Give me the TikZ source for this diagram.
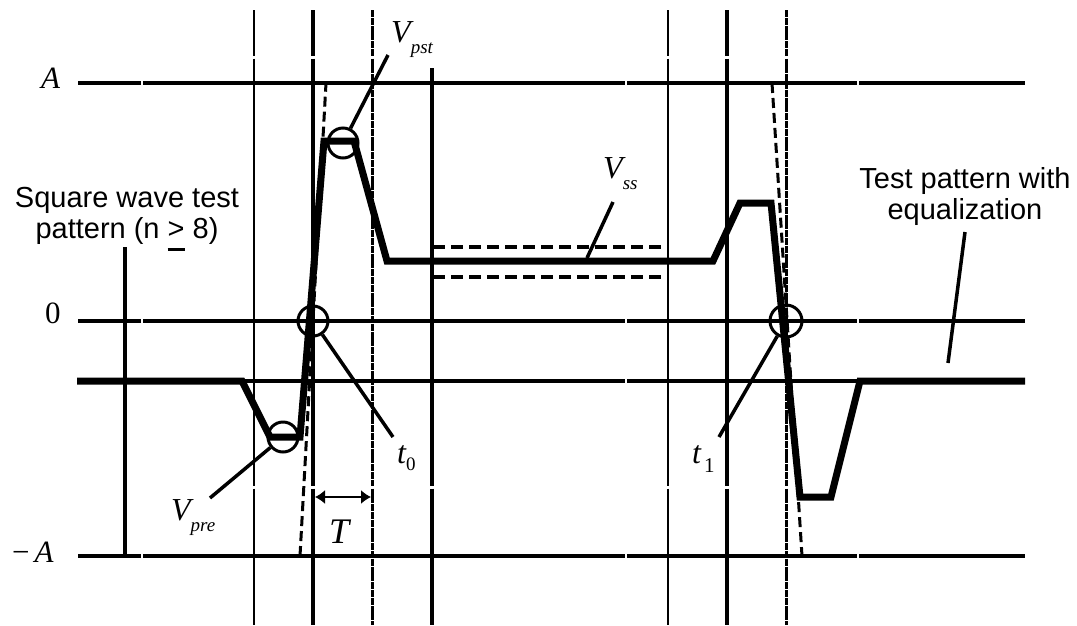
\documentclass[tikz,border=0pt]{standalone}
\usepackage{fontspec}
\setmainfont{Liberation Serif}
\setsansfont{Liberation Sans}
\usetikzlibrary{arrows.meta}
\newcommand\vlab[1]{{\fontsize{32}{32}\selectfont\itshape V}\raisebox{-11pt}{\fontsize{19}{19}\selectfont\itshape #1}}
\begin{document}
\begin{tikzpicture}[x=1pt,y=-1pt,
  hline/.style={line width=3.5pt},
  vthin/.style={line width=2pt},
  vmed/.style={line width=4pt},
  vdot/.style={line width=3pt, dash pattern=on 7pt off 0.8pt},
  wave/.style={line width=7pt, line join=miter},
  ideal/.style={line width=3pt, dash pattern=on 10pt off 5pt},
  band/.style={line width=3.5pt, dash pattern=on 12pt off 6pt},
  ring/.style={circle, draw, line width=3pt, minimum size=30pt, inner sep=0pt},
  leader/.style={line width=3.5pt},
  lab/.style={inner sep=0pt, anchor=base west, font=\fontsize{31}{31}\selectfont},
  sans/.style={inner sep=0pt, anchor=base, font=\sffamily\fontsize{29}{29}\selectfont},
  tarrow/.style={line width=1.5pt, {Latex[length=10pt,width=14pt]}-{Latex[length=10pt,width=14pt]}},
]
\useasboundingbox (0,0) rectangle (1077,625);
\fill[white] (0,0) rectangle (1077,625);

% horizontal levels
\foreach \yy in {83,321,381,556}{
  \draw[hline] (78,\yy) -- (141,\yy) (143,\yy) -- (625,\yy) (627,\yy) -- (857,\yy) (859,\yy) -- (1025,\yy);
}
% vertical time grid
\foreach \xx/\st in {254/vthin,313/vmed,372/vdot,668/vthin,727/vmed,786/vdot}{
  \draw[\st] (\xx,10) -- (\xx,56) (\xx,58.5) -- (\xx,486) (\xx,488.5) -- (\xx,625);
}
\draw[vmed] (432,68) -- (432,486) (432,488.5) -- (432,625);

% square wave leader
\coordinate (sqtop) at (125,247);
\coordinate (sqbot) at (125,556);
\draw[vmed] (sqtop) -- (sqbot);

% ideal square wave edges
\draw[ideal] (300,556) -- (326,83);
\draw[ideal] (772,83) -- (802,556);

% steady-state band
\draw[band] (433,247) -- (668,247);
\draw[band] (433,277) -- (668,277);

% equalized waveform
\draw[wave] (77,381) -- (242,381) -- (270,437) -- (300,437) -- (324,141) -- (354,141)
  -- (387,261) -- (713,261) -- (740,203) -- (771,203) -- (800,497) -- (831,497)
  -- (860,381) -- (1025,381);

% markers
\node[ring] (cpst) at (343,143) {};
\node[ring] (c0) at (313,321) {};
\node[ring] (cpre) at (283,437) {};
\node[ring, minimum size=32pt] (c1) at (786,321) {};

% leaders
\coordinate (pstend) at (388,55);
\draw[leader] (cpst) -- (pstend);
\coordinate (t0end) at (393,437);
\draw[leader] (c0) -- (t0end);
\coordinate (t1end) at (719,437);
\draw[leader] (c1) -- (t1end);
\coordinate (preend) at (210,498);
\draw[leader] (cpre) -- (preend);
\coordinate (ssend) at (613,202);
\coordinate (sson) at (587,258);
\draw[leader] (ssend) -- (sson);
\coordinate (eqtop) at (965,232);
\coordinate (eqbot) at (948,363);
\draw[leader] (eqtop) -- (eqbot);

% T interval
\coordinate (Tl) at (315,497);
\coordinate (Tr) at (371,497);
\draw[tarrow] (Tl) -- (Tr);

% level labels
\node[lab] (lA) at (41,88) {\itshape A};
\node[lab] (l0) at (45,323) {0};
\node[lab] (lmA) at (12,562) {−\hspace{5pt}\itshape A};

% voltage labels
\node[lab] (lpst) at (391,42) {\vlab{pst}};
\node[lab] (lss) at (603,178) {\vlab{ss}};
\node[lab] (lpre) at (171,520) {\vlab{pre}};

% time labels
\node[lab] (lt0) at (397,463) {{\fontsize{32}{32}\selectfont\itshape t}\raisebox{-7pt}{\fontsize{19}{19}\selectfont 0}};
\node[lab] (lt1) at (692,463) {{\fontsize{32}{32}\selectfont\itshape t}\hspace{3pt}\raisebox{-9pt}{\fontsize{21}{21}\selectfont 1}};
\node[lab] (lT) at (329,543) {\fontsize{36}{36}\selectfont\itshape T};

% text annotations
\node[sans] (sq1) at (127,207) {Square wave test};
\node[sans] (sq2) at (127,238) {pattern (n \makebox[0pt][l]{\rule[-13pt]{17pt}{3.5pt}}> 8)};
\node[sans] (eq1) at (965,188) {Test pattern with};
\node[sans] (eq2) at (965,219) {equalization};
\end{tikzpicture}
\end{document}
